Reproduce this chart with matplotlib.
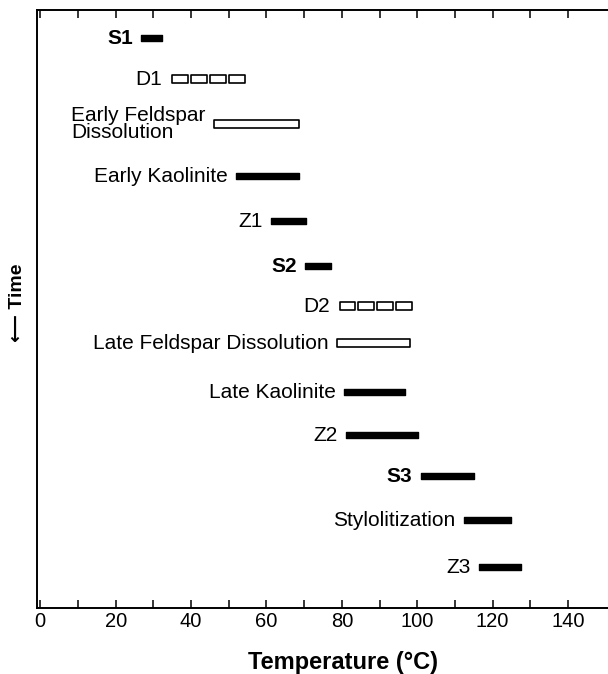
import matplotlib.pyplot as plt

plt.rcParams['font.family'] = ['Liberation Sans', 'DejaVu Sans']

# diagenetic events, in time order (top = earliest)
events = ['S1', 'D1', 'Early Feldspar\nDissolution', 'Early Kaolinite', 'Z1', 'S2',
          'D2', 'Late Feldspar Dissolution', 'Late Kaolinite', 'Z2', 'S3',
          'Stylolitization', 'Z3']
# relative time position of each event (down = later)
time_pos = [28, 69, 114, 166, 211, 256, 296, 333, 382, 425, 466, 510, 557]
t_start = [26.8, 34.5, 46.0, 52.0, 61.2, 70.3, 79.0, 78.7, 80.6, 81.1, 100.9, 112.4, 116.3]
t_end = [32.3, 54.8, 68.5, 68.5, 70.5, 77.0, 99.0, 98.0, 96.7, 100.3, 115.0, 124.8, 127.6]
# 'solid' bar, 'open' box, 'dashed' = row of small open boxes
kinds = ['solid', 'dashed', 'open', 'solid', 'solid', 'solid', 'dashed', 'open',
         'solid', 'solid', 'solid', 'solid', 'solid']
bold = ['S1', 'S2', 'S3']

fig = plt.figure(figsize=(6.08, 6.74), dpi=100)
ax = fig.add_axes([0.0604, 0.0979, 0.9396, 0.8872])

for name, y, a, b, kind in zip(events, time_pos, t_start, t_end, kinds):
    if kind == 'solid':
        ax.broken_barh([(a, b - a)], (y - 3, 6), facecolors='black', edgecolors='black')
    elif kind == 'open':
        ax.broken_barh([(a, b - a)], (y - 4, 8), facecolors='white',
                       edgecolors='black', linewidth=1.2)
    else:
        w = (b - a) / 4
        segs = [(a + i * w + 0.4, w - 0.8) for i in range(4)]
        ax.broken_barh(segs, (y - 4, 8), facecolors='white',
                       edgecolors='black', linewidth=1.2)
    ax.annotate(name, (a, y), xytext=(-6, 0), textcoords='offset points',
                ha='right', va='center', ma='left', fontsize=15,
                fontweight='bold' if name in bold else 'normal', linespacing=0.85)

ax.set_xlim(-0.95, 150.6)
ax.set_ylim(598, 0)
ax.set_xticks(range(0, 141, 20))
ax.set_xticks(range(10, 140, 20), minor=True)
ax.set_yticks([])
ax.tick_params(axis='x', which='both', direction='in', length=6, width=1.1,
               top=True, labelsize=14.5, pad=3)
ax.spines['right'].set_visible(False)
for s in ['left', 'top', 'bottom']:
    ax.spines[s].set_linewidth(1.4)

fig.text(343 / 608, 1 - 662 / 674, 'Temperature (°C)', ha='center', va='center',
         fontsize=17, fontweight='bold')
fig.text(17 / 608, 1 - 303 / 674, '⟵ Time', ha='center', va='center',
         rotation=90, fontsize=14, fontweight='bold')

fig.savefig('out.png', dpi=100)
